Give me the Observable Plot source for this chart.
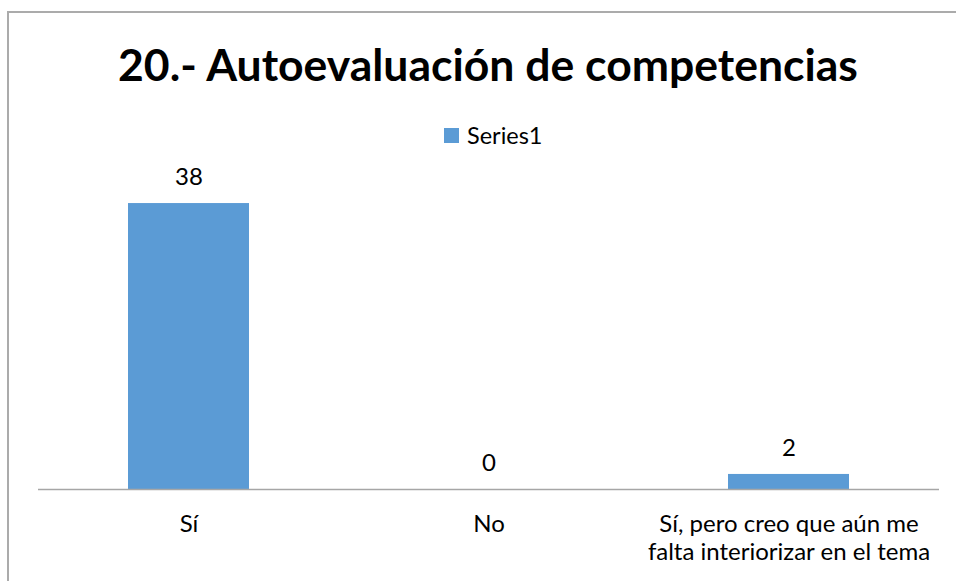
<!DOCTYPE html>
<html>
<head>
<meta charset="utf-8">
<script src="https://cdn.jsdelivr.net/npm/d3@7"></script>
<script src="https://cdn.jsdelivr.net/npm/@observablehq/plot@0.6"></script>
<style>
  html, body { margin: 0; padding: 0; background: #fff; }
  #wrap { position: relative; width: 956px; height: 581px; overflow: hidden; font-family: Lato, "Open Sans", sans-serif; }
  #frame { position: absolute; left: 7px; top: 11px; width: 1000px; height: 1000px; border-top: 2px solid #ababab; border-left: 2px solid #ababab; box-sizing: border-box; }
  #title { position: absolute; left: 0; width: 976px; top: 34px; text-align: center; font-weight: 700; font-size: 44.5px; line-height: 60px; color: #000; white-space: nowrap; }
  #legend { position: absolute; left: 444px; top: 120px; font-size: 23.5px; line-height: 30px; color: #000; display: flex; align-items: center; }
  #legend .sw { width: 15px; height: 15px; background: #5b9bd5; margin-right: 8px; }
  #chart { position: absolute; left: 0; top: 0; }
</style>
</head>
<body>
<div id="wrap">
  <div id="frame"></div>
  <div id="title">20.- Autoevaluación de competencias</div>
  <div id="legend"><span class="sw"></span><span>Series1</span></div>
  <div id="chart"></div>
</div>
<script>
const categories = ["Sí", "No", "Sí, pero creo que aún me falta interiorizar en el tema"];
const tickLabels = ["Sí", "No", "Sí, pero creo que aún me\nfalta interiorizar en el tema"];
const values = [38, 0, 2];
const seriesName = "Series1";

const data = categories.map((c, i) => ({category: c, value: values[i], series: seriesName}));
const labelOf = new Map(categories.map((c, i) => [c, tickLabels[i]]));

const chart = Plot.plot({
  width: 956,
  height: 581,
  marginTop: 188,
  marginBottom: 92,
  marginLeft: 38,
  marginRight: 17,
  style: { fontFamily: "Lato, 'Open Sans', sans-serif", background: "transparent", color: "#000" },
  x: { domain: categories, paddingInner: 0.597, paddingOuter: 0.2985, label: null },
  y: { domain: [0, 40], axis: null },
  marks: [
    Plot.barY(data, { x: "category", y: "value", fill: "#5b9bd5" }),
    Plot.ruleY([0], { stroke: "#a6a6a6", strokeWidth: 1.5 }),
    Plot.text(data, { x: "category", y: "value", text: d => String(d.value), dy: -26, fontSize: 24, fill: "#000", lineAnchor: "middle" }),
    Plot.axisX({ tickSize: 0, tickPadding: 23, lineAnchor: "top", fontSize: 24, lineHeight: 1.167, tickFormat: c => labelOf.get(c), fill: "#000", label: null })
  ]
});
document.getElementById("chart").appendChild(chart);
</script>
</body>
</html>
